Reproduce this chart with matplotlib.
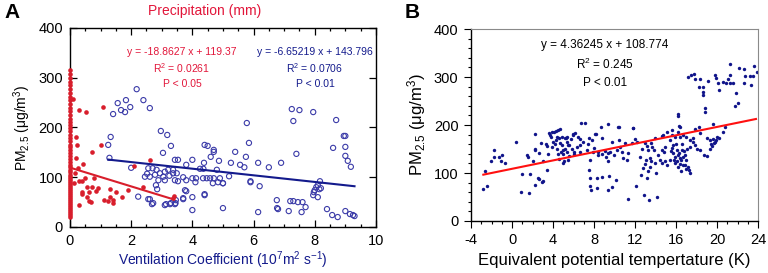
"""PM2.5 vs. precipitation / ventilation coefficient (A) and equivalent potential temperature (B)."""

import matplotlib
matplotlib.use("Agg")
import matplotlib.pyplot as plt
from matplotlib.ticker import MultipleLocator

# ── style ──────────────────────────────────────────────────────────────────────
plt.rcParams.update({
    "font.family": ["Liberation Sans", "DejaVu Sans"],
    "font.size":   10,
    "axes.unicode_minus": False,
    "mathtext.fontset": "custom",
    "mathtext.rm": "Liberation Sans",
    "mathtext.it": "Liberation Sans",
})

RED      = "#d81e2c"
RED_TXT  = "#e2163a"
BLUE     = "#3b3ba8"
NAVY     = "#131a8c"
DOT_B    = "#10148a"

# ── data: panel A, precipitation (filled red) ─────────────────────────────────
precip_stack_y = [315, 308, 300, 292, 285, 278, 270, 262, 255, 248, 240, 233, 226,
                  218, 212, 205, 198, 192, 185, 178, 172, 165, 160, 154, 148, 142,
                  136, 130, 125, 120, 115, 110, 105, 100, 96, 92, 88, 84, 80, 76,
                  72, 68, 64, 60, 56, 52, 48, 44, 40, 36, 32, 28, 24, 20]
precip_x = [0.1, 0.3, 0.52, 1.08, 0.2, 0.23, 0.72, 1.0, 0.2, 0.42, 0.27, 2.61, 2.1,
            0.16, 0.3, 0.4, 0.13, 0.5, 0.8, 0.56, 0.72, 0.9, 0.84, 0.4, 0.63, 0.38,
            0.57, 0.63, 0.7, 0.29, 1.3, 1.3, 1.5, 1.1, 1.25, 1.4, 1.4, 1.7, 1.9,
            2.4, 3.4, 3.38]
precip_y = [257, 235, 231, 241, 181, 165, 151, 165, 139, 127, 119, 135, 123,
            108, 92, 92, 88, 98, 98, 80, 80, 78, 73, 70, 70, 66,
            61, 52, 50, 44, 76, 61, 70, 54, 52, 54, 48, 61, 74,
            80, 62, 58]

# ── data: panel A, ventilation coefficient (open blue) ────────────────────────
vent_x = [1.41, 1.56, 1.67, 1.8, 1.83, 1.97, 2.18, 2.4, 2.61, 1.33, 2.97, 3.18, 5.78,
          1.25, 1.29, 3.3, 3.04, 2.0, 2.23, 2.56, 2.68, 3.1, 3.3, 3.45, 3.7, 3.8,
          4.0, 4.0, 4.4, 5.0, 4.4, 4.5, 4.7, 4.7, 4.6, 5.4, 5.85, 5.75, 5.26, 5.56,
          4.87, 4.38, 4.0, 3.8, 3.43, 3.53, 6.15, 6.15, 5.9, 4.25, 4.36, 4.8, 3.37,
          3.7, 4.0, 4.12, 4.35, 4.47, 4.58, 4.7, 4.9, 5.0, 5.2, 3.53, 3.8, 4.1,
          4.67, 4.84, 5.0, 5.9, 6.2, 3.76, 4.4, 3.7, 3.46, 6.76, 6.77, 7.25, 7.5,
          7.95, 7.3, 8.7, 8.95, 9.0, 8.6, 9.0, 9.0, 9.08, 9.18, 7.4, 6.9, 8.17,
          8.05, 8.1, 8.15, 8.2, 8.0, 7.97, 8.1, 7.95, 7.2, 7.3, 7.45, 7.6, 7.7,
          6.8, 7.15, 7.57, 8.4, 8.57, 8.75, 9.0, 9.15, 9.25, 9.3, 2.56, 2.7, 2.83,
          2.94, 3.1, 3.21, 3.37, 3.49, 2.45, 2.61, 2.78, 2.89, 3.05, 3.43, 2.81,
          2.85, 3.25, 2.52, 3.1, 2.61, 2.72, 3.14, 3.27, 3.43, 5.7, 6.5]
vent_y = [227, 249, 235, 231, 255, 241, 277, 255, 239, 181, 193, 185, 209,
          165, 139, 163, 149, 119, 61, 56, 46, 44, 48, 48, 56, 72,
          60, 34, 66, 38, 165, 163, 155, 151, 141, 151, 169, 141, 129, 125,
          133, 129, 135, 125, 135, 135, 129, 30, 92, 117, 117, 115, 108,
          100, 98, 98, 98, 98, 98, 98, 98, 88, 102, 92, 94, 90,
          88, 90, 88, 90, 82, 74, 64, 58, 54, 54, 38, 237, 235,
          231, 213, 215, 183, 183, 159, 161, 143, 133, 121, 147, 129, 92,
          80, 84, 76, 78, 74, 70, 60, 64, 52, 52, 50, 50, 40,
          36, 32, 30, 36, 24, 20, 32, 26, 24, 22, 118, 118, 115,
          108, 111, 115, 115, 108, 101, 101, 105, 94, 101, 94, 84,
          76, 103, 107, 94, 56, 48, 46, 46, 46, 120, 120]

# fits printed on the figure
precip_fit = (-18.8627, 119.37, 0.0, 3.4)
vent_fit   = (-6.65219, 143.796, 1.25, 9.3)

# ── data: panel B, equivalent potential temperature ───────────────────────────
theta_x = [-2.8, -2.47, -2.63, -2.08, -1.76, -1.73, -1.27, -0.95, -1.07, -0.68, 0.36,
           0.95, 0.85, 1.43, 1.59, 1.76, 1.69, 2.08, 2.24, 2.27, 2.24, 2.67, 2.57,
           2.66, 2.9, 3.06, 2.24, 2.8, 3.32, 3.38, 2.99, 3.45, 3.64, 3.7, 3.77, 3.87,
           4.1, 4.29, 4.52, 4.68, 4.42, 4.62, 4.29, 4.68, 4.85, 5.0, 5.33, 5.5, 5.17,
           4.75, 4.52, 4.94, 5.1, 5.5, 5.0, 5.6, 4.0, 4.2, 4.4, 4.9, 5.2, 5.4, 5.8,
           5.9, 6.0, 4.6, 3.9, 3.5, 6.4, 6.6, 6.3,
           5.33, 5.56, 5.98, 6.08, 6.63, 6.63, 6.96, 7.28, 7.38, 7.51, 7.61, 7.77,
           7.93, 8.03, 8.16, 8.36, 8.42, 8.75, 8.81, 9.07, 9.14, 9.33, 9.4, 9.56,
           9.72, 9.98, 10.21, 10.37, 10.44, 10.54, 10.7, 10.86, 11.02, 11.19, 11.35,
           11.68, 11.84, 12.0, 12.16, 12.49, 12.65, 12.98, 13.04, 13.14, 13.3, 13.46,
           13.56, 13.69, 13.89, 13.95, 14.21, 14.44, 14.67, 14.8, 14.67,
           6.73, 7.12, 9.4, 8.68, 8.1, 6.15, 5.98, 5.24, 10.44, 11.83,
           7.54, 7.6, 8.26, 8.81, 9.5, 10.15, 7.6, 7.7, 8.33, 9.4, 9.73, 11.35, 12.1,
           12.9, 13.4, 14.1, 13.95, 12.8, 13.0, 13.3, 13.6, 14.0, 12.6, 13.2, 13.5,
           17.2, 17.5, 17.8, 17.85, 18.3, 18.2, 18.6, 18.6, 18.6, 19.1, 18.8, 18.8,
           19.8, 19.9, 20.1, 20.2, 20.6, 20.9, 21.3, 21.1, 21.3, 21.3, 21.6, 21.9,
           21.76, 22.0, 22.1, 22.6, 22.6, 22.7, 23.2, 23.5, 23.3, 23.6, 23.9,
           16.2, 16.2, 16.3, 16.4, 14.76, 15.1, 15.6, 15.6, 15.9, 16.2, 16.4, 16.7,
           17.0, 17.4, 17.7, 17.85, 18.2, 18.3, 19.0, 19.3, 19.6, 19.8, 19.6, 20.2,
           20.8, 20.6,
           14.6, 14.9, 15.4, 15.6, 15.74, 15.9, 16.07, 16.2, 16.4, 16.56, 16.7, 17.0,
           16.9, 17.2, 17.3, 17.4, 14.9, 15.4, 15.15, 15.9, 16.4, 16.7, 18.0, 18.3,
           18.7, 19.0, 19.3, 19.5, 17.7, 17.85, 17.4, 15.7,
           16.0, 16.1, 16.3, 16.5, 16.6, 16.8, 16.9, 17.1, 15.8, 15.5, 16.2, 17.0,
           16.5, 19.4, 19.7, 19.9, 20.0]
theta_y = [66, 73, 105, 124, 133, 148, 133, 138, 126, 120, 165,
           97, 61, 137, 133, 98, 58, 124, 76, 148, 151, 141, 89,
           87, 82, 83, 181, 163, 160, 157, 124, 106, 183, 179, 175, 186,
           185, 188, 190, 191, 176, 172, 169, 162, 158, 148, 144, 158, 172,
           144, 140, 140, 124, 127, 120, 135, 165, 160, 150, 175, 150, 165, 170,
           150, 140, 130, 155, 140, 175, 170, 155,
           176, 158, 181, 144, 158, 144, 165, 148, 160, 174, 128, 169,
           144, 153, 181, 144, 137, 172, 140, 146, 134, 141, 124, 144,
           165, 137, 148, 196, 169, 155, 144, 131, 162, 127, 141,
           163, 194, 170, 165, 134, 151, 162, 127, 156, 148, 131,
           162, 155, 148, 172, 137, 127, 177, 144, 121,
           205, 205, 202, 195, 181, 184, 179, 174, 195, 194,
           106, 90, 89, 92, 94, 85, 72, 65, 68, 65, 70, 45, 72,
           54, 44, 51, 120, 110, 118, 104, 125, 100, 96, 90, 112,
           300, 304, 306, 295, 295, 280, 280, 269, 262, 292, 235, 228,
           304, 297, 287, 274, 290, 287, 287, 296, 304, 327, 287, 266,
           240, 245, 318, 317, 287, 302, 302, 302, 283, 323, 311,
           224, 219, 198, 195, 179, 186, 190, 179, 176, 186, 176, 179,
           176, 169, 172, 191, 195, 183, 172, 169, 170, 165, 202, 174,
           196, 186,
           148, 155, 169, 153, 141, 134, 148, 137, 131, 148, 134, 127,
           117, 113, 106, 101, 124, 127, 117, 120, 119, 117, 151, 148,
           137, 135, 151, 156, 165, 158, 155, 158,
           160, 125, 142, 128, 160, 145, 138, 150, 128, 145, 112, 108,
           105, 160, 162, 168, 175]

theta_fit = (4.36245, 108.774, -2.8, 23.8)

# ── figure ─────────────────────────────────────────────────────────────────────
fig = plt.figure(figsize=(7.68, 2.73), dpi=100)
axA = fig.add_axes([0.0911, 0.1685, 0.3984, 0.729])
axB = fig.add_axes([0.6133, 0.1905, 0.3737, 0.703])

# ── panel A ────────────────────────────────────────────────────────────────────
axA.scatter(vent_x, vent_y, s=14, facecolors="none", edgecolors=BLUE,
            linewidths=0.8, zorder=2)
axA.scatter([0.0] * len(precip_stack_y), precip_stack_y, s=11, color=RED,
            linewidths=0, zorder=3, clip_on=False)
axA.scatter(precip_x, precip_y, s=11, color=RED, linewidths=0, zorder=3)

for (k, b, x0, x1), c in ((precip_fit, RED), (vent_fit, NAVY)):
    axA.plot([x0, x1], [k * x0 + b, k * x1 + b], color=c, lw=1.5, zorder=4)

axA.set_xlim(0, 10)
axA.set_ylim(0, 400)
axA.xaxis.set_major_locator(MultipleLocator(2))
axA.xaxis.set_minor_locator(MultipleLocator(0.5))
axA.yaxis.set_major_locator(MultipleLocator(100))
axA.tick_params(which="both", direction="in", top=True, right=True,
                labelsize=10.5, width=0.9)
axA.tick_params(which="major", length=5, pad=5)
axA.tick_params(which="minor", length=2.5)
for s in axA.spines.values():
    s.set_linewidth(1.0)

axA.set_xlabel(r"Ventilation Coefficient (10$^7$m$^2$ s$^{-1}$)", color=NAVY,
               fontsize=10, labelpad=1)
axA.set_ylabel(r"PM$_{2.5}$ ($\mathrm{\mu}$g/m$^3$)", fontsize=10, labelpad=4)
fig.text(205 / 768, 1 - 11 / 273, "Precipitation (mm)", color=RED_TXT,
         fontsize=10, ha="center", va="center")

for i, s in enumerate(["y = -18.8627 x + 119.37", r"R$^2$ = 0.0261", "P < 0.05"]):
    fig.text(182 / 768, 1 - (52 + 16 * i) / 273, s, color=RED_TXT,
             fontsize=7.5, ha="center", va="center")
for i, s in enumerate(["y = -6.65219 x + 143.796", r"R$^2$ = 0.0706", "P < 0.01"]):
    fig.text(315 / 768, 1 - (52 + 16 * i) / 273, s, color=NAVY,
             fontsize=7.5, ha="center", va="center")

# ── panel B ────────────────────────────────────────────────────────────────────
axB.scatter(theta_x, theta_y, s=6, color=DOT_B, linewidths=0, zorder=2)
k, b, x0, x1 = theta_fit
axB.plot([x0, x1], [k * x0 + b, k * x1 + b], color="#ff1010", lw=1.5, zorder=3)

axB.set_xlim(-4, 24)
axB.set_ylim(0, 400)
axB.xaxis.set_major_locator(MultipleLocator(4))
axB.xaxis.set_minor_locator(MultipleLocator(1))
axB.yaxis.set_major_locator(MultipleLocator(100))
axB.yaxis.set_minor_locator(MultipleLocator(20))
axB.tick_params(which="both", direction="out", labelsize=10.5, width=0.8)
axB.tick_params(which="major", length=5, pad=4)
axB.tick_params(which="minor", length=2.5)
for side in ("top", "right"):
    axB.spines[side].set_color("#8a8a8a")
for side in ("left", "bottom"):
    axB.spines[side].set_linewidth(1.0)

axB.set_xlabel("Equivalent potential tempertature (K)", fontsize=12, labelpad=4)
axB.set_ylabel(r"PM$_{2.5}$ ($\mathrm{\mu}$g/m$^3$)", fontsize=12, labelpad=4)
for i, s in enumerate(["y = 4.36245 x + 108.774", r"R$^2$ = 0.245", "P < 0.01"]):
    fig.text(605 / 768, 1 - (45 + 19 * i) / 273, s, fontsize=8.5,
             ha="center", va="center")

# panel letters
fig.text(4 / 768, 1 - 13 / 273, "A", fontsize=15, fontweight="bold", va="center")
fig.text(405 / 768, 1 - 13 / 273, "B", fontsize=15, fontweight="bold", va="center")

fig.savefig("out.png", dpi=100)
